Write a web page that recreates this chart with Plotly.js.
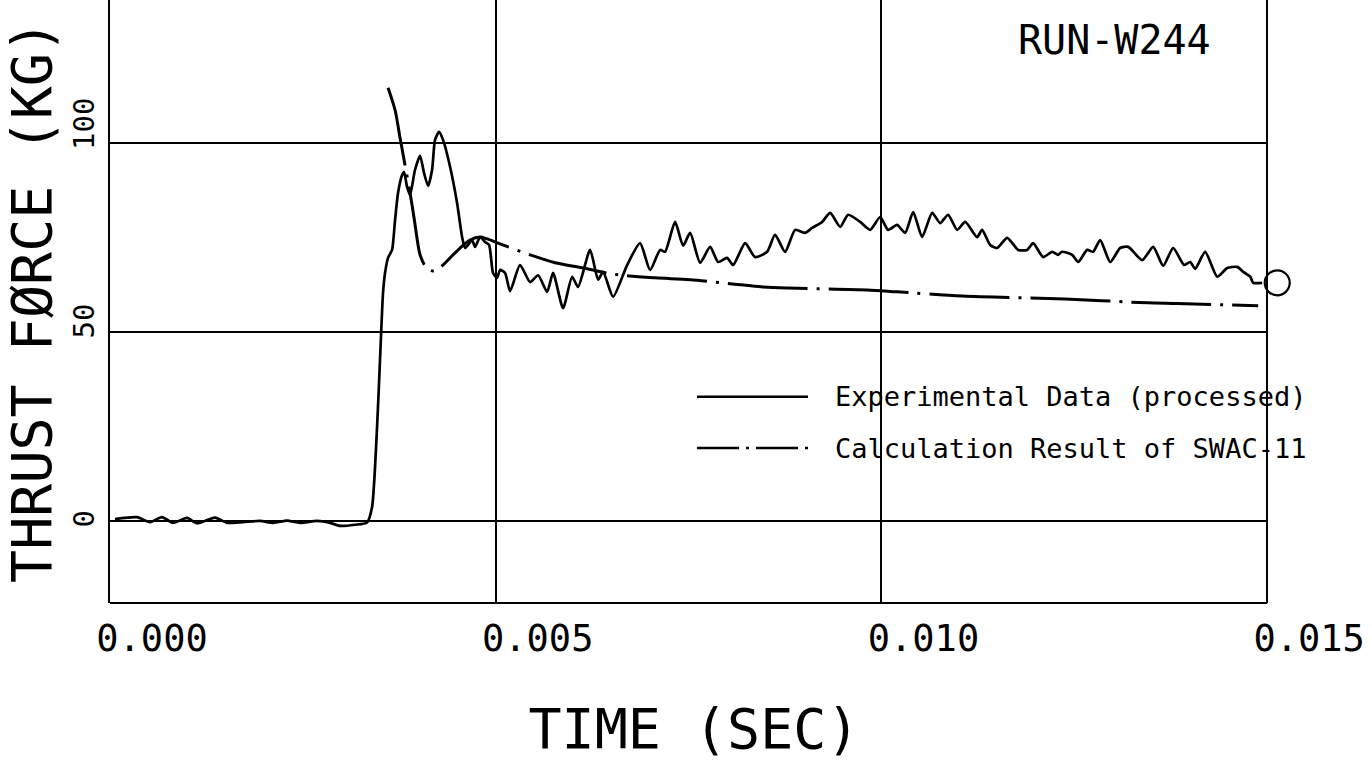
<!DOCTYPE html>
<html>
<head>
<meta charset="utf-8">
<script src="https://cdn.plot.ly/plotly-3.0.1.min.js"></script>
<style>html,body{margin:0;padding:0;background:#fff;}#chart{width:1372px;height:769px;}</style>
</head>
<body>
<div id="chart"></div>
<script>
// Experimental data (processed): time (s), thrust force (kg)
const expTime = [0.000065, 0.00035, 0.000519, 0.000674, 0.000817, 0.000998, 0.001128, 0.001361, 0.001517, 0.001724, 0.001945, 0.002113, 0.002295, 0.002463, 0.002684, 0.002852, 0.002982, 0.003176, 0.003332, 0.003397, 0.003462, 0.0035, 0.003539, 0.003565, 0.003604, 0.003656, 0.003695, 0.003734, 0.003786, 0.003812, 0.00385, 0.003889, 0.003954, 0.004019, 0.004071, 0.004123, 0.004175, 0.004213, 0.004265, 0.004317, 0.004408, 0.004499, 0.004564, 0.004602, 0.004641, 0.004693, 0.004732, 0.004797, 0.004862, 0.004914, 0.004965, 0.005017, 0.005056, 0.005121, 0.005186, 0.005315, 0.005445, 0.005549, 0.005666, 0.005743, 0.005873, 0.00599, 0.006067, 0.006223, 0.006327, 0.006392, 0.006521, 0.006703, 0.006871, 0.007001, 0.007131, 0.007195, 0.007325, 0.007429, 0.00752, 0.007649, 0.007779, 0.007883, 0.007999, 0.008077, 0.008233, 0.008362, 0.008518, 0.008621, 0.008751, 0.008881, 0.00901, 0.009101, 0.009231, 0.009335, 0.009464, 0.009568, 0.009724, 0.009853, 0.009983, 0.010086, 0.010203, 0.010307, 0.010411, 0.010527, 0.010657, 0.010761, 0.010864, 0.010981, 0.011085, 0.01124, 0.011305, 0.011409, 0.0115, 0.011629, 0.011772, 0.011889, 0.011966, 0.012096, 0.012213, 0.01229, 0.012342, 0.012472, 0.01255, 0.012666, 0.012744, 0.012835, 0.012965, 0.013094, 0.013198, 0.01338, 0.013522, 0.013652, 0.013781, 0.013924, 0.014002, 0.014067, 0.014196, 0.014352, 0.014482, 0.014611, 0.014689, 0.01478, 0.014819, 0.014935];
const expForce = [0.5, 1.0, -0.3, 1.0, -0.5, 0.8, -0.6, 0.9, -0.5, -0.3, 0.0, -0.5, 0.1, -0.5, 0.0, -0.5, -1.3, -1.0, -0.4, 3.7, 24.9, 42.6, 60.3, 65.6, 69.6, 71.7, 79.6, 86.8, 91.5, 92.3, 88.4, 86.2, 92.9, 96.6, 92.0, 88.6, 92.9, 100.8, 102.9, 100.8, 93.7, 84.1, 75.1, 72.2, 73.0, 74.3, 72.5, 75.1, 73.8, 73.0, 65.6, 64.3, 66.4, 65.6, 60.8, 67.7, 63.2, 65.0, 60.6, 65.6, 56.3, 64.6, 61.9, 71.7, 63.8, 65.9, 59.3, 67.7, 73.5, 66.4, 71.7, 71.2, 79.1, 72.8, 76.2, 68.3, 72.5, 68.5, 69.6, 67.7, 73.5, 69.8, 71.2, 75.7, 71.2, 77.0, 76.2, 77.5, 79.1, 81.5, 77.8, 81.0, 79.1, 77.0, 80.4, 77.0, 78.3, 76.2, 81.7, 75.1, 81.5, 78.8, 81.0, 77.0, 79.1, 75.1, 77.0, 73.0, 72.2, 74.9, 71.7, 71.7, 73.5, 69.8, 71.2, 70.4, 71.2, 70.4, 68.5, 71.7, 71.2, 74.3, 68.5, 72.2, 72.5, 69.0, 72.5, 67.5, 72.2, 67.7, 68.5, 66.7, 71.2, 64.6, 66.9, 67.2, 65.9, 64.6, 63.0, 63.0];

// Calculation result of SWAC-11
const calcTime = [0.003604, 0.003695, 0.00376, 0.003812, 0.003889, 0.003941, 0.003993, 0.004019, 0.004084, 0.004188, 0.004278, 0.004408, 0.004538, 0.004667, 0.004797, 0.004888, 0.00503, 0.005445, 0.005769, 0.006119, 0.006521, 0.007066, 0.00752, 0.008466, 0.008777, 0.009814, 0.010203, 0.011046, 0.012381, 0.013444, 0.013833, 0.014883];
const calcForce = [114.6, 108.7, 101.3, 95.5, 86.8, 80.2, 73.0, 70.4, 67.5, 66.1, 67.0, 69.6, 72.2, 74.3, 75.1, 74.6, 73.5, 70.4, 68.3, 67.0, 65.3, 64.3, 63.8, 61.9, 61.6, 61.1, 60.6, 59.5, 58.7, 57.7, 57.5, 56.9];

// End-of-record symbol
const endTime = [0.01513];
const endForce = [63.0];

// Axis ticks
const xTickVals = [0, 0.005, 0.010, 0.015];
const xTickText = ["0.000", "0.005", "0.010", "0.015"];
const yTickVals = [0, 50, 100];
const yTickText = ["0", "50", "100"];

// Legend labels and run label
const seriesNames = ["Experimental Data (processed)", "Calculation Result of SWAC-11"];
const runLabel = "RUN-W244";

const MONO = '"DejaVu Sans Mono", "Liberation Mono", monospace';
const calcDash = "80px,9px,3px,9px";
const X_END = xTickVals[xTickVals.length - 1];

const traces = [
  {x: expTime, y: expForce, type: 'scatter', mode: 'lines', name: seriesNames[0],
   line: {color: '#000', width: 2.7, shape: 'spline', smoothing: 0.6}, hoverinfo: 'skip'},
  {x: calcTime, y: calcForce, type: 'scatter', mode: 'lines', name: seriesNames[1],
   line: {color: '#000', width: 3, shape: 'spline', smoothing: 0.8, dash: calcDash}, hoverinfo: 'skip'},
  {x: endTime, y: endForce, type: 'scatter', mode: 'markers', showlegend: false, cliponaxis: false,
   marker: {symbol: 'circle-open', size: 25, color: '#000', line: {width: 2.2, color: '#000'}}, hoverinfo: 'skip'}
];

// Legend drawn like the plotter legend (paper coordinates)
const legX0 = 0.5026, legX1 = 0.5976, legTextX = 0.619;
const legY = [0.342, 0.257];

// Horizontal grid lines (end at last x tick), bottom axis line
const gridShapes = yTickVals.map(v => ({
  type: 'line', xref: 'x', yref: 'y', x0: 0, x1: X_END, y0: v, y1: v, layer: 'below',
  line: {color: '#000', width: 2}
}));
gridShapes.push({type: 'line', xref: 'x', yref: 'paper', x0: 0, x1: X_END, y0: 0, y1: 0,
  line: {color: '#000', width: 2.2}});

// Rotated y tick labels (plotter style, starting just below each grid line)
const yTickAnnots = yTickVals.map((v, i) => ({
  xref: 'paper', yref: 'y', x: 0, y: v, text: yTickText[i], showarrow: false,
  textangle: -90, xanchor: 'right', yanchor: 'bottom', xshift: -7, yshift: -9,
  font: {family: MONO, size: 29, color: '#000'}
}));

const layout = {
  width: 1372, height: 769,
  paper_bgcolor: '#fff', plot_bgcolor: '#fff',
  margin: {l: 110, r: 94, t: 0, b: 166},
  showlegend: false,
  font: {family: MONO, color: '#000'},
  xaxis: {
    range: [0, 0.01514],
    tickvals: xTickVals, ticktext: xTickText,
    showgrid: true, gridcolor: '#000', gridwidth: 2,
    showline: false,
    zeroline: false, ticks: '',
    tickfont: {family: MONO, size: 37, color: '#000'},
    ticklabelshift: 42, ticklabelstandoff: 10,
    title: {text: 'TIME (SEC)', font: {family: MONO, size: 55, color: '#000'}, standoff: 50},
    automargin: false
  },
  yaxis: {
    range: [-21.7, 137.8],
    tickvals: yTickVals,
    showticklabels: false,
    showgrid: false,
    showline: true, linecolor: '#000', linewidth: 2.2,
    zeroline: false, ticks: '',
    title: {text: 'THRUST FØRCE (KG)', font: {family: MONO, size: 55, color: '#000'}, standoff: 40},
    automargin: false
  },
  shapes: gridShapes.concat([
    {type: 'line', xref: 'paper', yref: 'paper', x0: legX0, x1: legX1, y0: legY[0], y1: legY[0],
     line: {color: '#000', width: 2.4}},
    {type: 'line', xref: 'paper', yref: 'paper', x0: legX0, x1: legX1, y0: legY[1], y1: legY[1],
     line: {color: '#000', width: 2.4, dash: '42px,7px,3px,7px'}}
  ]),
  annotations: yTickAnnots.concat([
    {xref: 'paper', yref: 'paper', x: legTextX, y: legY[0], text: seriesNames[0], showarrow: false,
     xanchor: 'left', yanchor: 'middle', font: {family: MONO, size: 27, color: '#000'}},
    {xref: 'paper', yref: 'paper', x: legTextX, y: legY[1], text: seriesNames[1], showarrow: false,
     xanchor: 'left', yanchor: 'middle', font: {family: MONO, size: 27, color: '#000'}},
    {xref: 'paper', yref: 'paper', x: 0.860, y: 0.934, text: runLabel, showarrow: false,
     xanchor: 'center', yanchor: 'middle', font: {family: MONO, size: 40, color: '#000'}}
  ])
};

Plotly.newPlot('chart', traces, layout, {displayModeBar: false, staticPlot: true});
</script>
</body>
</html>
